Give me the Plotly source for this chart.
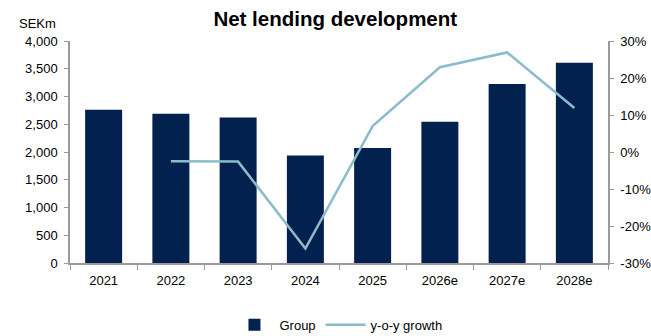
import plotly.graph_objects as go

# Net lending per year (SEKm) and year-over-year growth (%)
years = ["2021", "2022", "2023", "2024", "2025", "2026e", "2027e", "2028e"]
net_lending = [2760, 2690, 2620, 1935, 2070, 2545, 3225, 3610]
growth_pct = [None, -2.5, -2.6, -26.1, 7.0, 22.9, 26.9, 11.9]

left_ticks = [0, 500, 1000, 1500, 2000, 2500, 3000, 3500, 4000]
right_ticks = [-30, -20, -10, 0, 10, 20, 30]

BAR_COLOR = "#02214f"
LINE_COLOR = "#8bbccb"
AXIS_COLOR = "#9a9a9a"
FONT = "Liberation Sans, Arial, sans-serif"

fig = go.Figure()
fig.add_trace(go.Bar(
    x=years, y=net_lending, name="Group",
    marker=dict(color=BAR_COLOR, line=dict(width=0)),
    yaxis="y",
))
fig.add_trace(go.Scatter(
    x=years, y=growth_pct, name="y-o-y growth",
    mode="lines", line=dict(color=LINE_COLOR, width=2.5),
    yaxis="y2",
))

fig.update_layout(
    width=651, height=336,
    margin=dict(l=70, r=43, t=41, b=73, autoexpand=False),
    paper_bgcolor="white", plot_bgcolor="white",
    font=dict(family=FONT, size=13, color="#000000"),
    bargap=0.45,
    showlegend=True,
    title=dict(
        text="<b>Net lending development</b>",
        x=0.515, xanchor="center", y=0.945, yanchor="middle",
        font=dict(size=20.5, family=FONT, color="#000000"),
    ),
    legend=dict(
        orientation="h", x=0.499, xanchor="center",
        yref="container", y=0.033, yanchor="middle",
        font=dict(size=13), itemwidth=40, bgcolor="rgba(0,0,0,0)",
    ),
    xaxis=dict(
        type="category", showline=True, linecolor=AXIS_COLOR, linewidth=1.5,
        ticks="outside", tickson="boundaries", ticklen=5, tickcolor=AXIS_COLOR,
        ticklabelstandoff=5, showgrid=False, zeroline=False, automargin=False,
    ),
    yaxis=dict(
        range=[0, 4000], tickvals=left_ticks,
        tickformat=",d", showline=True, linecolor=AXIS_COLOR, linewidth=1.5,
        ticks="outside", ticklen=4, tickcolor=AXIS_COLOR, ticklabelstandoff=4,
        showgrid=False, zeroline=False, automargin=False,
    ),
    yaxis2=dict(
        range=[-30, 30], tickvals=right_ticks,
        ticktext=[f"{v}%" for v in right_ticks],
        overlaying="y", side="right",
        showline=True, linecolor=AXIS_COLOR, linewidth=1.5,
        ticks="outside", ticklen=4, tickcolor=AXIS_COLOR, ticklabelstandoff=4,
        showgrid=False, zeroline=False, automargin=False,
    ),
    annotations=[dict(
        text="SEKm", xref="paper", yref="paper", x=-0.061, y=1.077,
        xanchor="center", yanchor="middle", showarrow=False,
        font=dict(size=13, family=FONT),
    )],
)

fig.write_html("out.html")
